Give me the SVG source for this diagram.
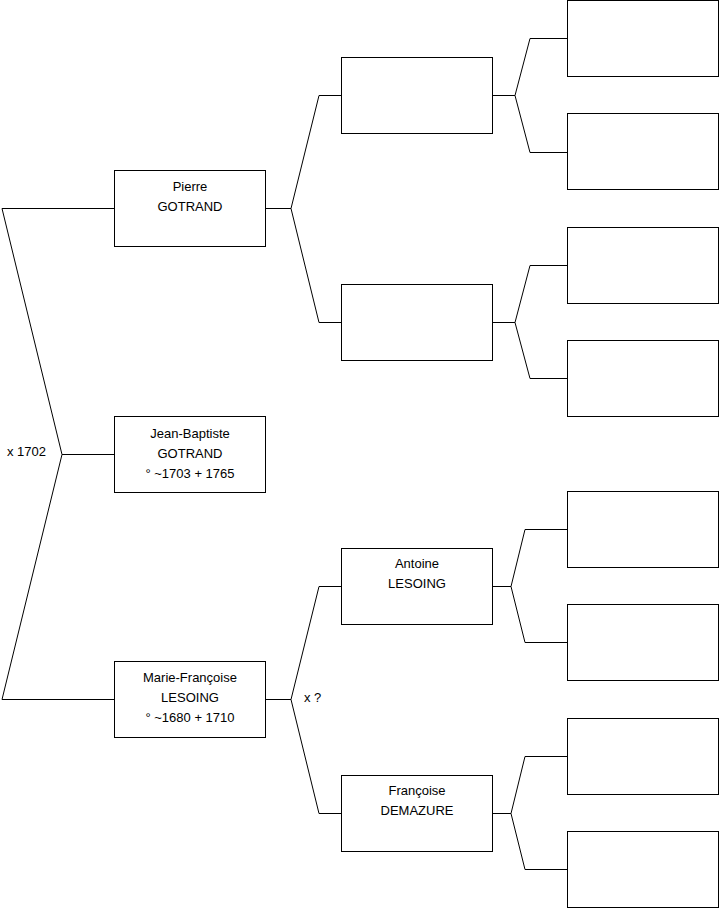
<svg xmlns="http://www.w3.org/2000/svg" width="719" height="908" viewBox="0 0 719 908">
<style>
.box{fill:#fff;stroke:#000;stroke-width:1}
.ln{fill:none;stroke:#000;stroke-width:1}
text{font-family:"Liberation Sans",Arial,sans-serif;font-size:13px;fill:#000}
.c{text-anchor:middle}
</style>
<rect width="719" height="908" fill="#fff"/>
<g id="connectors">
<polyline class="ln" points="114,208.5 2,208.5 62,454.5 2,699.5 114,699.5"/>
<line class="ln" x1="62" y1="454.5" x2="114" y2="454.5"/>
<text x="7" y="456">x 1702</text>
<polyline class="ln" points="341,95.5 319,95.5 291,208.5 319,322.5 341,322.5"/>
<line class="ln" x1="265" y1="208.5" x2="291" y2="208.5"/>
<polyline class="ln" points="341,586.5 319,586.5 291,699.5 319,813.5 341,813.5"/>
<line class="ln" x1="265" y1="699.5" x2="291" y2="699.5"/>
<text x="304" y="702">x ?</text>
<polyline class="ln" points="567,38.5 530,38.5 515,95.5 530,152.5 567,152.5"/>
<line class="ln" x1="492" y1="95.5" x2="515" y2="95.5"/>
<polyline class="ln" points="567,265.5 530,265.5 515,322.5 530,378.5 567,378.5"/>
<line class="ln" x1="492" y1="322.5" x2="515" y2="322.5"/>
<polyline class="ln" points="567,529.5 525,529.5 511,586.5 525,642.5 567,642.5"/>
<line class="ln" x1="492" y1="586.5" x2="511" y2="586.5"/>
<polyline class="ln" points="567,756.5 525,756.5 511,813.5 525,869.5 567,869.5"/>
<line class="ln" x1="492" y1="813.5" x2="511" y2="813.5"/>
</g>
<g id="pierre"><rect class="box" x="114.5" y="170.5" width="151" height="76"/>
<text class="c" x="190" y="191">Pierre</text><text class="c" x="190" y="211">GOTRAND</text></g>
<g id="jean-baptiste"><rect class="box" x="114.5" y="416.5" width="151" height="76"/>
<text class="c" x="190" y="438">Jean-Baptiste</text><text class="c" x="190" y="458">GOTRAND</text><text class="c" x="190" y="478">° ~1703 + 1765</text></g>
<g id="marie-francoise"><rect class="box" x="114.5" y="661.5" width="151" height="76"/>
<text class="c" x="190" y="682">Marie-Françoise</text><text class="c" x="190" y="702">LESOING</text><text class="c" x="190" y="722">° ~1680 + 1710</text></g>
<g id="p-father"><rect class="box" x="341.5" y="57.5" width="151" height="76"/></g>
<g id="p-mother"><rect class="box" x="341.5" y="284.5" width="151" height="76"/></g>
<g id="antoine"><rect class="box" x="341.5" y="548.5" width="151" height="76"/>
<text class="c" x="417" y="568">Antoine</text><text class="c" x="417" y="588">LESOING</text></g>
<g id="francoise"><rect class="box" x="341.5" y="775.5" width="151" height="76"/>
<text class="c" x="417" y="795">Françoise</text><text class="c" x="417" y="815">DEMAZURE</text></g>
<g id="g3-1"><rect class="box" x="567.5" y="0.5" width="151" height="76"/></g>
<g id="g3-2"><rect class="box" x="567.5" y="113.5" width="151" height="76"/></g>
<g id="g3-3"><rect class="box" x="567.5" y="227.5" width="151" height="76"/></g>
<g id="g3-4"><rect class="box" x="567.5" y="340.5" width="151" height="76"/></g>
<g id="g3-5"><rect class="box" x="567.5" y="491.5" width="151" height="76"/></g>
<g id="g3-6"><rect class="box" x="567.5" y="604.5" width="151" height="76"/></g>
<g id="g3-7"><rect class="box" x="567.5" y="718.5" width="151" height="76"/></g>
<g id="g3-8"><rect class="box" x="567.5" y="831.5" width="151" height="76"/></g>
</svg>
